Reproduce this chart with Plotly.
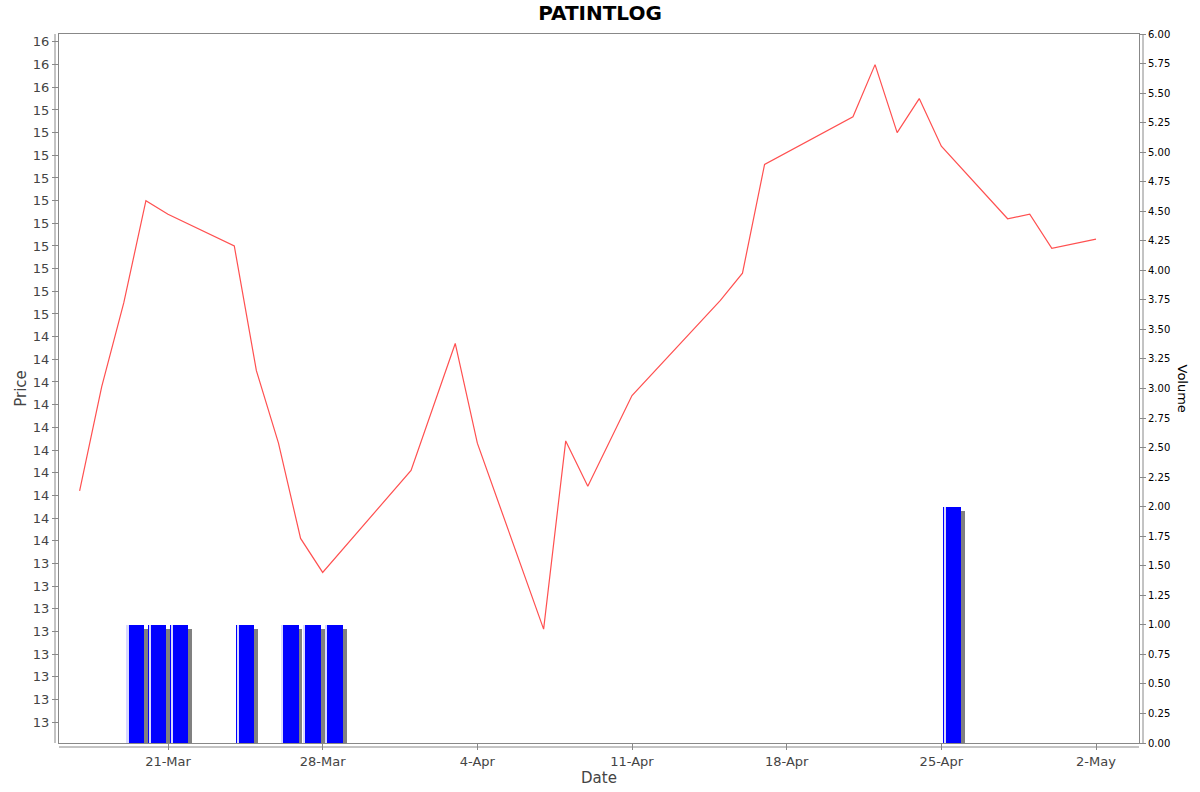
import plotly.graph_objects as go
from datetime import datetime, timedelta

# Closing prices
price_dates = [
  "2025-03-17", "2025-03-18", "2025-03-19", "2025-03-20", "2025-03-21",
  "2025-03-24", "2025-03-25", "2025-03-26", "2025-03-27", "2025-03-28",
  "2025-04-01", "2025-04-03", "2025-04-04", "2025-04-07", "2025-04-08",
  "2025-04-09", "2025-04-11", "2025-04-15", "2025-04-16", "2025-04-17",
  "2025-04-21", "2025-04-22", "2025-04-23", "2025-04-24", "2025-04-25",
  "2025-04-28", "2025-04-29", "2025-04-30", "2025-05-02"
  ]
prices = [
  13.72, 14.18, 14.55, 15.00, 14.94,
  14.80, 14.25, 13.93, 13.51, 13.36,
  13.81, 14.37, 13.93, 13.11, 13.94,
  13.74, 14.14, 14.56, 14.68, 15.16,
  15.37, 15.60, 15.30, 15.45, 15.24,
  14.92, 14.94, 14.79, 14.83
  ]

# Volume bars
volume_dates = [
  "2025-03-19", "2025-03-20", "2025-03-21", "2025-03-24",
  "2025-03-26", "2025-03-27", "2025-03-28", "2025-04-25"
  ]
volumes = [1, 1, 1, 1, 1, 1, 1, 2]

# Left axis labels are rounded to whole numbers, so many repeat
price_tick_values = [12.7, 12.8, 12.9, 13.0, 13.1, 13.2, 13.3, 13.4,
                     13.5, 13.6, 13.7, 13.8, 13.9, 14.0, 14.1, 14.2, 14.3, 14.4,
                     14.5, 14.6, 14.7, 14.8, 14.9, 15.0, 15.1, 15.2, 15.3, 15.4,
                     15.5, 15.6, 15.7]
price_tick_labels = ["13", "13", "13", "13", "13", "13", "13", "13",
                     "14", "14", "14", "14", "14", "14", "14", "14", "14", "14",
                     "15", "15", "15", "15", "15", "15", "15", "15", "15", "15",
                     "16", "16", "16"]

# plot area in pixels, used for the little offsets (shadow, axis gap)
L, R, T, B = 59, 61, 34, 49
W = 1200 - L - R
H = 792 - T - B
px_day = W / 48.0      # roughly 48 days across the plot
px_vol = H / 6.0       # volume axis runs 0..6

day = timedelta(days=1)
bar_mid = [datetime.fromisoformat(d) + day / 2 for d in volume_dates]
shadow_x = [d + day * (4 / px_day) for d in bar_mid]
shadow_y = [v - 4 / px_vol for v in volumes]
shine_x = [d - day * (7.5 / px_day) for d in bar_mid]
bar_w = 0.815 * 86400000

shadow = go.Bar(x=shadow_x, y=shadow_y, width=bar_w, yaxis="y2",
                marker=dict(color="#808080", line_width=0), hoverinfo="skip")
bars = go.Bar(x=bar_mid, y=volumes, width=bar_w, yaxis="y2", name="Volume",
              marker=dict(color="#0000FF", line_width=0))
shine = go.Bar(x=shine_x, y=volumes, width=2.2 / px_day * 86400000, yaxis="y2",
               marker=dict(color="#D8D8FF", line_width=0), hoverinfo="skip")
line = go.Scatter(x=price_dates, y=prices, mode="lines", name="Price",
                  line=dict(color="#FF5050", width=1.2))

fig = go.Figure(data=[line, shadow, bars, shine])

axis_font = dict(family="DejaVu Sans", size=13, color="#444444")

fig.update_layout(
  width=1200, height=792,
  margin=dict(l=L, r=R, t=T, b=B),
  paper_bgcolor="white", plot_bgcolor="white",
  showlegend=False, barmode="overlay", bargap=0,
  title=dict(text="<b>PATINTLOG</b>", x=0.5, xanchor="center", y=0.984,
             yanchor="middle", font=dict(family="DejaVu Sans", size=20, color="black")),
  xaxis=dict(
    type="date", automargin=False,
    range=["2025-03-16 01:36", "2025-05-03 22:42"],
    tick0="2025-03-21", dtick=7 * 86400000, tickformat="%-d-%b",
    ticks="outside", ticklen=6, tickcolor="#888888",
    tickfont=axis_font, showgrid=False, zeroline=False,
    showline=True, mirror=True, linecolor="#888888", linewidth=1,
    title=dict(text="Date", font=dict(family="DejaVu Sans", size=15, color="#444444"),
               standoff=4),
    ),
  yaxis=dict(
    automargin=False,
    range=[12.6076, 15.735],
    tickmode="array", tickvals=price_tick_values, ticktext=price_tick_labels,
    ticks="outside", ticklen=6, tickcolor="#888888",
    tickfont=axis_font, showgrid=False, zeroline=False,
    showline=True, mirror=True, linecolor="#888888", linewidth=1,
    title=dict(text="Price", font=dict(family="DejaVu Sans", size=15, color="#444444"),
               standoff=2),
    ),
  yaxis2=dict(
    automargin=False,
    overlaying="y", side="right", range=[0, 6],
    tick0=0, dtick=0.25, tickformat=".2f",
    ticks="outside", ticklen=6, tickcolor="#888888",
    tickfont=dict(family="DejaVu Sans", size=10, color="black"),
    showgrid=False, zeroline=False, showline=False,
    ),
  )

# separate axis lines sitting a few pixels off the plot frame
gx = 4 / W
gy = 4 / H
fig.add_shape(type="line", xref="paper", yref="paper", x0=-gx, x1=-gx, y0=0, y1=1,
              line=dict(color="#888888", width=1))
fig.add_shape(type="line", xref="paper", yref="paper", x0=1 + gx, x1=1 + gx, y0=0, y1=1,
              line=dict(color="#888888", width=1))
fig.add_shape(type="line", xref="paper", yref="paper", x0=0, x1=1, y0=-gy, y1=-gy,
              line=dict(color="#888888", width=1))

# right axis title reads top to bottom
fig.add_annotation(text="Volume", xref="paper", yref="paper", x=1 + 43 / W, y=0.5,
                   xanchor="center", textangle=90, showarrow=False,
                   font=dict(family="DejaVu Sans", size=13, color="black"))

# drop the default page margin so the figure sits at the window corner
fig.write_html("out.html", config={"displayModeBar": False},
               post_script="document.body.style.margin='0';")
